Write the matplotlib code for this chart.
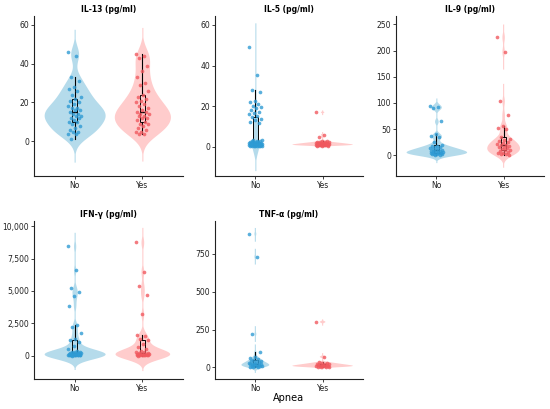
import numpy as np
import matplotlib
matplotlib.use("Agg")
import matplotlib.pyplot as plt
from matplotlib.ticker import FuncFormatter

## Data
groups = ["No", "Yes"]

il13_no = [46, 44, 33, 31, 28, 27, 26, 24, 23, 22, 21, 20, 19, 18, 17, 17, 16, 16, 15,
           14, 14, 13, 13, 12, 12, 11, 10, 10, 9, 8, 7, 6, 5, 5, 4, 4, 1]
il13_yes = [45, 44, 43, 39, 36, 33, 30, 29, 26, 24, 23, 22, 21, 20, 19, 18, 17, 16, 15,
            15, 14, 14, 13, 13, 12, 12, 11, 10, 9, 9, 8, 7, 6, 5, 5, 4, 3.5]

il5_no = [49, 35.5, 28, 27, 22.5, 22, 21, 20, 19.5, 19, 18, 17, 16.5, 16, 15, 14.5,
          13.5, 13, 12.5, 12,
          3.5, 3.2, 3, 3, 2.8, 2.6, 2.5, 2.4, 2.2, 2.1, 2, 2, 1.9, 1.8, 1.7, 1.6, 1.5,
          1.5, 1.4, 1.3, 1.3, 1.2, 1.2, 1.1, 1.1, 1, 1, 1, 0.9, 0.9, 0.8, 0.8, 0.7,
          0.7, 0.6, 0.6, 0.5, 0.5, 0.5, 0.4]
il5_yes = [17, 6, 5, 3, 3, 2.5, 2.5, 2.3, 2.2, 2, 2, 2, 1.9, 1.8, 1.8, 1.7, 1.6, 1.5,
           1.5, 1.5, 1.4, 1.4, 1.3, 1.3, 1.2, 1.2, 1.1, 1.1, 1, 1, 1, 1, 0.9, 0.9,
           0.8, 0.8, 0.8, 0.7, 0.6, 0.6]

il9_no = [95, 92, 90, 65, 40, 37, 35, 25, 20, 18, 17, 15, 15, 14, 12, 12, 10, 10, 9, 8,
          8, 7, 6, 6, 5, 5, 4, 4, 3, 3, 2, 2, 1, 0.5]
il9_yes = [225, 197, 103, 77, 56, 52, 50, 35, 32, 30, 28, 25, 24, 22, 20, 20, 18, 16,
           15, 14, 12, 10, 10, 8, 6, 5, 4, 3, 2, 1]

ifn_no = [8450, 6600, 5200, 4900, 4600, 3850, 2350, 2200, 1750, 1300, 1250, 1050, 750,
          500, 400, 300, 280, 250, 220, 200, 200, 180, 150, 150, 120, 100, 100, 100,
          90, 80, 80, 70, 60, 50, 50, 50, 40, 30, 30, 20, 20, 10]
ifn_yes = [8750, 6500, 5350, 4700, 3200, 1600, 1500, 1300, 1200, 900, 700, 500, 400,
           300, 250, 200, 180, 150, 150, 120, 100, 100, 90, 80, 60, 50, 50, 40, 30, 30,
           20, 10]

tnf_no = [880, 730, 220, 100, 70, 60, 55, 50, 45, 40, 40, 35, 30, 30, 25, 25, 20, 20,
          20, 15, 15, 12, 10, 10, 8, 8, 5, 5, 3]
tnf_yes = [300, 70, 35, 30, 28, 25, 22, 20, 20, 18, 15, 15, 12, 12, 10, 10, 8, 8, 6,
           5, 5, 3]

titles = ["IL-13 (pg/ml)", "IL-5 (pg/ml)", "IL-9 (pg/ml)", "IFN-\u03b3 (pg/ml)", "TNF-\u03b1 (pg/ml)"]
series = [(il13_no, il13_yes), (il5_no, il5_yes), (il9_no, il9_yes),
          (ifn_no, ifn_yes), (tnf_no, tnf_yes)]
yticks = [[0, 20, 40, 60], [0, 20, 40, 60], [0, 50, 100, 150, 200, 250],
          [0, 2500, 5000, 7500, 10000], [0, 250, 500, 750]]
ylims = [(-17.9, 64.6), (-14.3, 64.4), (-39.5, 266), (-1800, 10400), (-76, 965)]

## Styling
VIOLIN_COLS = ["#b5dbeb", "#ffcccc"]
POINT_COLS = ["#2f9bd4", "#f0595f"]
W, H = 550, 409
# panel rectangles in pixels: left, right, top, bottom
RECTS = [(34, 183, 16, 176), (215, 363, 16, 176), (396, 544, 16, 176),
         (34, 183, 221, 379), (215, 363, 221, 379)]


def kde(values):
    v = np.asarray(values, dtype=float)
    n = len(v)
    iqr = np.subtract(*np.percentile(v, [75, 25]))
    bw = 0.9 * min(np.std(v, ddof=1), iqr / 1.34) * n ** -0.2
    grid = np.linspace(v.min() - 3 * bw, v.max() + 3 * bw, 1024)
    dens = np.exp(-0.5 * ((grid[:, None] - v[None, :]) / bw) ** 2).sum(axis=1)
    dens /= n * bw * np.sqrt(2 * np.pi)
    return grid, dens


def jitter(n, width=0.1):
    k = np.arange(n)
    return ((k * 0.6180339887) % 1.0 - 0.5) * 2 * width


fig = plt.figure(figsize=(W / 100, H / 100), dpi=100)

for i, (title, (no, yes)) in enumerate(zip(titles, series)):
    l, r, t, b = RECTS[i]
    ax = fig.add_axes([l / W, 1 - b / H, (r - l) / W, (b - t) / H])

    kdes = [kde(no), kde(yes)]
    dmax = max(d.max() for _, d in kdes)
    for j, (grid, dens) in enumerate(kdes):
        # thin tails stay visible like in the original render
        vis = dens > 1e-5 * dmax
        hw = np.maximum(0.45 * dens / dmax, 0.008)
        ax.fill_betweenx(grid, j + 1 - hw, j + 1 + hw, where=vis,
                         color=VIOLIN_COLS[j], lw=0, zorder=1)

    bp = ax.boxplot([no, yes], positions=[1, 2], widths=0.08, showfliers=False,
                    showcaps=False, patch_artist=True, zorder=3)
    for j, box in enumerate(bp["boxes"]):
        box.set_facecolor(VIOLIN_COLS[j])
        box.set_edgecolor("black")
        box.set_linewidth(0.7)
    for w_ in bp["whiskers"]:
        w_.set_color("black")
        w_.set_linewidth(0.8)
    for m in bp["medians"]:
        m.set_color("black")
        m.set_linewidth(1.0)

    for j, vals in enumerate([no, yes]):
        x = j + 1 + jitter(len(vals))
        ax.scatter(x, vals, s=7, color=POINT_COLS[j], alpha=0.8, lw=0, zorder=4)

    ax.set_xlim(0.4, 2.6)
    ax.set_ylim(*ylims[i])
    ax.set_xticks([1, 2])
    ax.set_xticklabels(groups)
    ax.set_yticks(yticks[i])
    if i == 3:
        ax.yaxis.set_major_formatter(FuncFormatter(lambda v, p: f"{v:,.0f}"))
    ax.set_title(title, fontsize=5.5, fontweight="bold", pad=3)
    for s in ["top", "right"]:
        ax.spines[s].set_visible(False)
    for s in ["left", "bottom"]:
        ax.spines[s].set_linewidth(0.8)
        ax.spines[s].set_color("#222222")
    ax.tick_params(labelsize=5.5, length=2, width=0.6, pad=1.5, colors="#222222")

fig.text(288 / W, 1 - 398 / H, "Apnea", ha="center", va="center", fontsize=7)

fig.savefig("out.png", dpi=100)
